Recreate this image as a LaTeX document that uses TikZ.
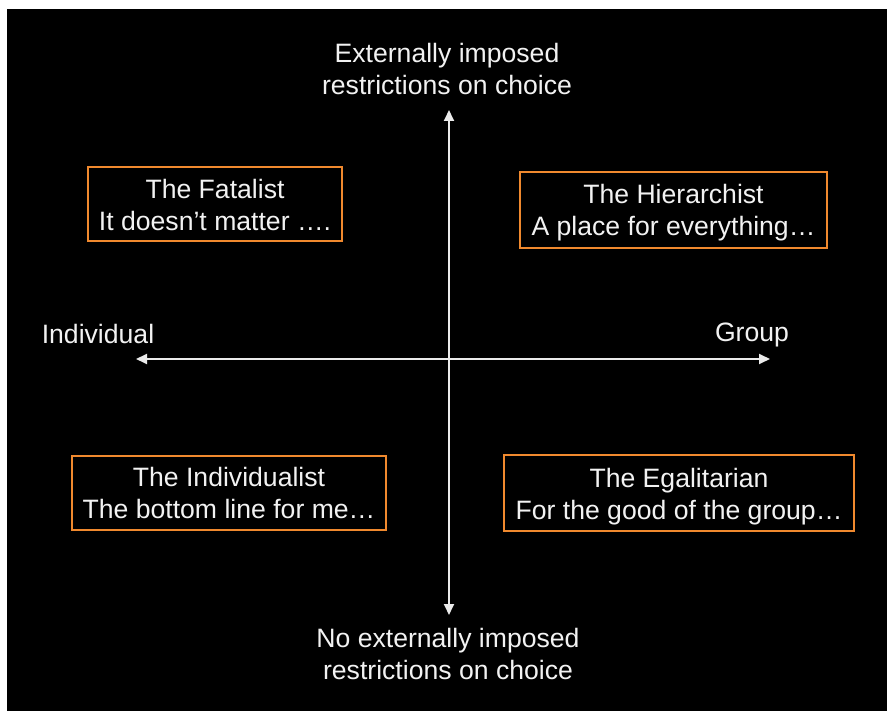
\documentclass[tikz,border=0pt]{standalone}
\usepackage{fontspec}
\setmainfont{Liberation Sans}
\usetikzlibrary{arrows.meta}
\definecolor{boxorange}{HTML}{F0892E}
\definecolor{txt}{HTML}{F2F2F2}
\begin{document}
\begin{tikzpicture}[x=1pt,y=-1pt,
  lbl/.style={text=txt,font=\fontsize{26.6}{32}\selectfont,align=center,inner sep=0pt},
  quad/.style={lbl,draw=boxorange,line width=2.5pt,minimum width=#1},
  axis/.style={draw=white!92!black,line width=1.8pt,{Triangle[length=11pt,width=10pt]}-{Triangle[length=11pt,width=10pt]}}]
\fill[white] (0,0) rectangle (887,711);
\fill[black] (7,9) rectangle (887,711);
\useasboundingbox (0,0) rectangle (887,711);
\node[lbl] (toplbl) at (447,69) {Externally imposed\\restrictions on choice};
\node[lbl] (botlbl) at (448,654) {No externally imposed\\restrictions on choice};
\node[lbl] (indlbl) at (98,334) {Individual};
\node[lbl] (grplbl) at (752,335) {Group};
\coordinate (top) at (449,110);
\coordinate (bot) at (449,615);
\coordinate (left) at (136,359);
\coordinate (right) at (770,359);
\draw[axis] (bot) -- (top);
\draw[axis] (left) -- (right);
\node[quad=254pt,minimum height=74pt] (fat) at (215,204) {\raisebox{-1pt}[\height][\depth]{\parbox{250pt}{\centering The Fatalist\\It doesn’t matter \dots.}}};
\node[quad=307pt,minimum height=76pt] (hier) at (673.5,210) {\raisebox{-3pt}[\height][\depth]{\parbox{300pt}{\centering The Hierarchist\\A place for everything\dots}}};
\node[quad=314pt,minimum height=74pt] (indiv) at (229,493) {\parbox{310pt}{\centering The Individualist\\The bottom line for me\dots}};
\node[quad=350pt,minimum height=76pt] (egal) at (679,493) {\raisebox{-4pt}[\height][\depth]{\parbox{346pt}{\centering The Egalitarian\\For the good of the group\dots}}};
\end{tikzpicture}
\end{document}
